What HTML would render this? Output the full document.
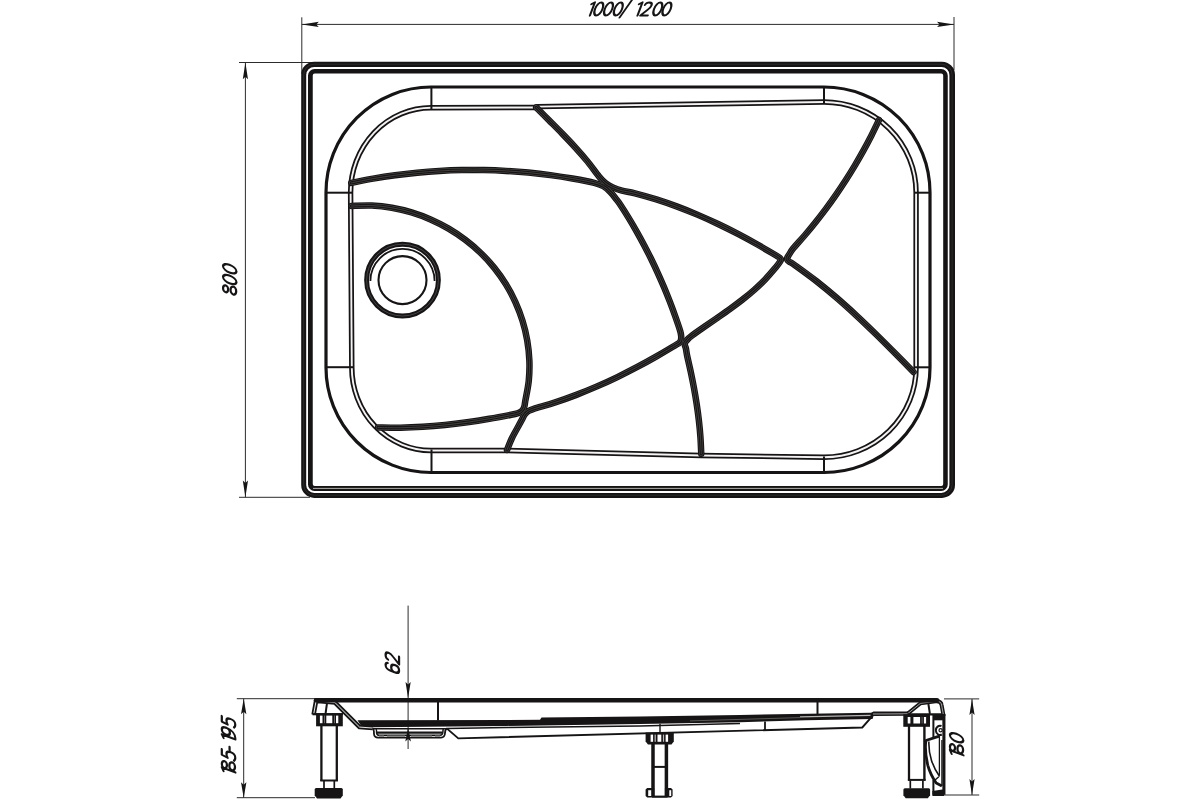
<!DOCTYPE html>
<html><head><meta charset="utf-8"><title>drawing</title>
<style>html,body{margin:0;padding:0;background:#fff;}body{width:1200px;height:800px;overflow:hidden;font-family:"Liberation Sans",sans-serif;}svg{display:block;position:absolute;left:0;top:0;}</style>
</head><body>
<svg width="1200" height="800" viewBox="0 0 1200 800">
<rect x="0" y="0" width="1200" height="800" fill="#ffffff"/>
<g stroke="#2c2c2c" stroke-width="1.0" fill="none">
<path d="M301.8,17.3 V74"/>
<path d="M954,17 V70"/>
<path d="M301.8,24.4 H954"/>
<path d="M239,62.5 H314"/>
<path d="M239,497.3 H310"/>
<path d="M245.4,62.5 V497.3"/>
</g>
<path d="M301.80,24.40 L318.80,21.70 L316.30,24.40 L318.80,27.10 Z" fill="#161414"/>
<path d="M954.00,24.40 L937.00,27.10 L939.50,24.40 L937.00,21.70 Z" fill="#161414"/>
<path d="M245.40,62.50 L248.00,79.30 L245.40,76.80 L242.80,79.30 Z" fill="#161414"/>
<path d="M245.40,497.30 L242.80,480.50 L245.40,483.00 L248.00,480.50 Z" fill="#161414"/>
<path fill="#161414" fill-rule="evenodd" d="M314.20,61.75 H942.00 A13.00,13.00 0 0 1 955.00,74.75 V484.90 A13.00,13.00 0 0 1 942.00,497.90 H314.20 A13.00,13.00 0 0 1 301.20,484.90 V74.75 A13.00,13.00 0 0 1 314.20,61.75 Z M314.20,66.90 H941.40 A8.00,8.00 0 0 1 949.40,74.90 V484.90 A8.00,8.00 0 0 1 941.40,492.90 H314.20 A8.00,8.00 0 0 1 306.20,484.90 V74.90 A8.00,8.00 0 0 1 314.20,66.90 Z"/>
<path fill="#161414" fill-rule="evenodd" d="M314.50,69.00 H941.25 A6.50,6.50 0 0 1 947.75,75.50 V484.40 A6.50,6.50 0 0 1 941.25,490.90 H314.50 A6.50,6.50 0 0 1 308.00,484.40 V75.50 A6.50,6.50 0 0 1 314.50,69.00 Z M314.75,73.50 H941.20 A2.00,2.00 0 0 1 943.20,75.50 V484.00 A2.00,2.00 0 0 1 941.20,486.00 H314.75 A2.00,2.00 0 0 1 312.75,484.00 V75.50 A2.00,2.00 0 0 1 314.75,73.50 Z"/>
<path fill="none" stroke="#3d3a3a" stroke-width="0.6" d="M314.20,64.20 H941.60 A10.50,10.50 0 0 1 952.10,74.70 V484.70 A10.50,10.50 0 0 1 941.60,495.20 H314.20 A10.50,10.50 0 0 1 303.70,484.70 V74.70 A10.50,10.50 0 0 1 314.20,64.20 Z"/>
<path fill="none" stroke="#b0acac" stroke-width="1.0" d="M313,488.4 H943"/>
<path fill="none" stroke="#161414" stroke-width="3.2" d="M431,87 H824 A106,105.5 0 0 1 930,192.5 V367.5 A106,105 0 0 1 824,472.5 H431 A105,105 0 0 1 326,367.5 V192.5 A105,105.5 0 0 1 431,87 Z"/>
<path fill="none" stroke="#161414" stroke-width="5.4" d="M431,107.7 L535,107.5 L538,106.6 L824,102 A92.1,90.5 0 0 1 916.1,192.5 V367.5 A92.1,89.8 0 0 1 824,457.3 L701,455.5 L506,450.5 L431,450.5 A79.2,83 0 0 1 351.8,367.5 L350.6,192.5 A80.4,84.8 0 0 1 431,107.7 Z"/>
<path fill="none" stroke="#f4f2f2" stroke-width="1.9" d="M431,107.7 L535,107.5 L538,106.6 L824,102 A92.1,90.5 0 0 1 916.1,192.5 V367.5 A92.1,89.8 0 0 1 824,457.3 L701,455.5 L506,450.5 L431,450.5 A79.2,83 0 0 1 351.8,367.5 L350.6,192.5 A80.4,84.8 0 0 1 431,107.7 Z"/>
<g stroke="#161414" stroke-width="2.0" fill="none">
<path d="M431.4,87 V109.5"/><path d="M824,87 V103"/><path d="M326,192.7 H352"/><path d="M915,192.7 H930"/>
<path d="M326,367.2 H353"/><path d="M915,367.3 H930"/><path d="M431.5,449.5 V472.5"/><path d="M824,456.5 V472.5"/>
</g>
<defs>
<path id="f0" d="M351.25,182.90 C354.89,182.19 365.80,179.93 373.11,178.65 C380.42,177.37 387.75,176.23 395.11,175.24 C402.46,174.24 409.83,173.39 417.22,172.67 C424.60,171.96 432.00,171.38 439.41,170.95 C446.81,170.52 454.23,170.23 461.65,170.08 C469.06,169.94 476.49,169.93 483.90,170.07 C491.32,170.20 498.74,170.48 506.14,170.90 C513.55,171.32 520.95,171.88 528.33,172.59 C535.72,173.29 543.09,174.14 550.44,175.13 C557.80,176.13 565.13,177.26 572.44,178.54 C579.75,179.82 589.12,181.51 594.30,182.80 C599.48,184.10 600.80,184.75 603.50,186.30 C606.20,187.85 608.33,189.90 610.50,192.10 C612.67,194.30 614.83,197.35 616.50,199.50 C618.17,201.65 618.45,201.89 620.50,205.00 C622.55,208.11 626.10,213.73 628.79,218.16 C631.49,222.58 634.11,227.05 636.67,231.55 C639.22,236.05 641.71,240.59 644.13,245.17 C646.55,249.75 648.90,254.36 651.18,259.01 C653.46,263.65 655.67,268.33 657.81,273.05 C659.95,277.76 662.03,282.50 664.03,287.28 C666.04,292.05 667.97,296.86 669.84,301.69 C671.70,306.52 673.50,311.38 675.22,316.27 C676.95,321.15 679.20,327.63 680.20,331.00 C681.19,334.37 681.12,334.85 681.20,336.50 C681.28,338.15 681.10,339.78 680.70,340.90 C680.30,342.02 679.54,342.57 678.80,343.20 C678.06,343.83 679.89,342.54 676.25,344.69 C672.61,346.85 663.44,352.43 656.96,356.15 C650.47,359.86 643.94,363.48 637.34,366.97 C630.74,370.45 624.09,373.83 617.38,377.07 C610.66,380.31 603.89,383.43 597.05,386.39 C590.21,389.35 583.31,392.18 576.34,394.84 C569.38,397.50 562.35,400.02 555.25,402.37 C548.15,404.71 538.24,407.42 533.75,408.89 C529.26,410.37 529.62,410.48 528.30,411.20 C526.98,411.92 526.52,412.47 525.80,413.20 C525.08,413.93 524.63,414.55 524.00,415.60 C523.37,416.65 522.92,417.77 522.00,419.50 C521.08,421.23 520.17,422.92 518.50,426.00 C516.83,429.08 513.92,434.00 512.00,438.00 C510.08,442.00 507.83,448.00 507.00,450.00"/>
<path id="f1" d="M536.20,107.40 C538.39,109.60 544.98,116.18 549.36,120.59 C553.75,125.01 558.17,129.40 562.50,133.87 C566.83,138.35 571.15,142.84 575.33,147.45 C579.51,152.05 583.63,156.71 587.56,161.52 C591.49,166.33 595.86,172.65 598.90,176.30 C601.94,179.94 603.48,181.55 605.80,183.40 C608.12,185.25 610.10,186.18 612.80,187.40 C615.50,188.62 618.30,189.72 622.00,190.70 C625.70,191.68 629.28,191.85 635.00,193.30 C640.72,194.75 649.29,197.19 656.34,199.42 C663.40,201.64 670.38,204.07 677.30,206.65 C684.23,209.23 691.08,211.99 697.88,214.88 C704.68,217.78 711.42,220.84 718.09,224.02 C724.77,227.19 731.38,230.52 737.94,233.94 C744.50,237.35 751.00,240.91 757.44,244.53 C763.88,248.16 772.91,253.51 776.60,255.70 C780.29,257.90 778.87,257.08 779.60,257.70 C780.33,258.32 780.93,258.72 781.00,259.40 C781.07,260.08 780.90,260.43 780.00,261.80 C779.10,263.17 778.03,264.70 775.60,267.60 C773.16,270.50 768.95,275.51 765.39,279.21 C761.84,282.91 758.10,286.41 754.28,289.81 C750.45,293.21 746.47,296.45 742.45,299.62 C738.42,302.80 734.28,305.85 730.12,308.87 C725.96,311.90 721.72,314.83 717.49,317.77 C713.27,320.72 709.00,323.60 704.79,326.54 C700.57,329.48 694.83,333.49 692.20,335.40 C689.57,337.31 689.93,337.15 689.00,338.00 C688.07,338.85 687.27,339.73 686.60,340.50 C685.93,341.27 685.30,341.85 685.00,342.60 C684.70,343.35 684.65,344.02 684.80,345.00 C684.95,345.98 685.50,346.67 685.90,348.50 C686.30,350.33 686.38,352.07 687.20,356.00 C688.02,359.93 689.67,366.71 690.80,372.09 C691.94,377.47 693.02,382.86 694.01,388.26 C695.00,393.67 695.93,399.09 696.74,404.52 C697.56,409.95 698.30,415.40 698.92,420.85 C699.53,426.31 700.06,431.78 700.44,437.27 C700.83,442.75 701.11,451.00 701.25,453.75"/>
<path id="f2" d="M351.50,206.01 C354.88,205.94 365.05,205.28 371.79,205.58 C378.52,205.87 385.27,206.63 391.90,207.78 C398.54,208.92 405.14,210.51 411.58,212.45 C418.03,214.40 424.40,216.76 430.57,219.46 C436.74,222.16 442.79,225.25 448.60,228.66 C454.40,232.06 460.05,235.83 465.40,239.89 C470.76,243.94 475.91,248.34 480.73,253.01 C485.55,257.67 490.12,262.65 494.32,267.87 C498.52,273.09 502.42,278.61 505.93,284.31 C509.44,290.01 512.61,295.98 515.38,302.08 C518.15,308.17 520.55,314.49 522.53,320.89 C524.51,327.29 526.10,333.86 527.24,340.47 C528.38,347.07 529.11,353.81 529.37,360.53 C529.62,367.25 529.44,374.06 528.76,380.80 C528.08,387.55 525.98,396.89 525.28,401.01 C524.59,405.12 524.91,404.17 524.60,405.50 C524.29,406.83 524.00,407.97 523.40,409.00 C522.80,410.03 521.98,410.98 521.00,411.70 C520.02,412.42 519.12,412.80 517.50,413.30 C515.88,413.80 515.95,413.79 511.25,414.70 C506.55,415.61 496.62,417.52 489.28,418.78 C481.93,420.04 474.56,421.22 467.18,422.25 C459.79,423.28 452.39,424.22 444.98,424.98 C437.56,425.75 430.13,426.39 422.70,426.85 C415.26,427.31 407.81,427.62 400.36,427.73 C392.91,427.84 381.73,427.54 378.00,427.50"/>
<path id="f3" d="M879.01,120.00 C877.75,122.58 874.06,130.34 871.46,135.45 C868.85,140.56 866.16,145.63 863.38,150.65 C860.60,155.68 857.73,160.66 854.79,165.59 C851.84,170.52 848.81,175.40 845.69,180.24 C842.58,185.07 839.39,189.85 836.12,194.57 C832.85,199.29 829.49,203.97 826.07,208.58 C822.64,213.19 819.13,217.74 815.55,222.23 C811.98,226.72 808.32,231.15 804.60,235.51 C800.87,239.88 795.75,245.27 793.20,248.40 C790.66,251.53 790.27,252.82 789.30,254.30 C788.33,255.78 787.75,256.42 787.40,257.30 C787.05,258.18 786.85,258.85 787.20,259.60 C787.55,260.35 788.20,260.85 789.50,261.80 C790.80,262.75 790.51,262.08 795.00,265.30 C799.48,268.53 809.43,275.69 816.42,281.15 C823.41,286.61 830.22,292.29 836.93,298.08 C843.65,303.86 850.21,309.82 856.72,315.85 C863.22,321.88 869.60,328.05 875.96,334.25 C882.31,340.45 888.57,346.75 894.82,353.04 C901.08,359.33 910.39,368.84 913.50,372.00"/>
</defs>
<g fill="none" stroke="#161414" stroke-width="6.5" stroke-linecap="round" stroke-linejoin="round">
<use href="#f0"/>
<use href="#f1"/>
<use href="#f2"/>
<use href="#f3"/>
</g>
<g fill="none" stroke="#545050" stroke-width="4.3" stroke-linecap="round" stroke-linejoin="round">
<use href="#f0"/>
<use href="#f1"/>
<use href="#f2"/>
<use href="#f3"/>
</g>
<g fill="none" stroke="#161414" stroke-width="3.3" stroke-linecap="round" stroke-linejoin="round">
<use href="#f0"/>
<use href="#f1"/>
<use href="#f2"/>
<use href="#f3"/>
</g>
<g fill="none" stroke="#545050" stroke-width="0.7" stroke-linecap="round" stroke-linejoin="round">
<use href="#f0"/>
<use href="#f1"/>
<use href="#f2"/>
<use href="#f3"/>
</g>
<circle cx="402.5" cy="280.1" r="35.9" fill="none" stroke="#161414" stroke-width="4.9"/>
<circle cx="402.5" cy="280.1" r="35.9" fill="none" stroke="#5a5656" stroke-width="0.7"/>
<path d="M370.4,281 A32.1,32.1 0 0 1 434.6,281" fill="none" stroke="#161414" stroke-width="1.8"/>
<circle cx="402.5" cy="280.1" r="24" fill="none" stroke="#161414" stroke-width="2.1"/>
<g stroke="#2c2c2c" stroke-width="1.0" fill="none">
<path d="M236.8,698.7 H315"/><path d="M236.8,797.7 H315"/><path d="M243.7,698.7 V797.7"/>
<path d="M408.1,605.6 V749"/>
<path d="M944,698.9 H979.2"/><path d="M944,795 H979.2"/><path d="M972,699 V795"/>
</g>
<path d="M243.70,698.70 L246.40,714.20 L243.70,711.70 L241.00,714.20 Z" fill="#161414"/>
<path d="M243.70,797.70 L241.00,782.20 L243.70,784.70 L246.40,782.20 Z" fill="#161414"/>
<path d="M972.00,699.00 L974.60,715.00 L972.00,712.50 L969.40,715.00 Z" fill="#161414"/>
<path d="M972.00,795.00 L969.40,779.00 L972.00,781.50 L974.60,779.00 Z" fill="#161414"/>
<path d="M447,728.6 L458.3,738.4 L862.3,727.5 L871,717.6" fill="none" stroke="#161414" stroke-width="1.9" stroke-linejoin="miter"/>
<path d="M765,721.5 V730.5" stroke="#161414" stroke-width="1.8" fill="none"/>
<path fill="#161414" d="M357.5,720.3 L540,719.8 L541.5,717.6 L640,716.6 L740,714.9 L871,712.8 L873.5,711.6 L908,711.6 L908,713 L874.5,713 L872.5,719 L806,720.3 L740,722.2 L640,724 L507,725.9 L372,727.3 L362,727.3 Z"/>
<path d="M800,716.9 L870.5,715.4" fill="none" stroke="#b9b5b5" stroke-width="1.1"/>
<path d="M690,720.9 L800,717.6" fill="none" stroke="#7a7676" stroke-width="0.7"/>
<path d="M372,728.7 L447,728.7" fill="none" stroke="#161414" stroke-width="1.5"/>
<path d="M447,728.4 L507,727.6 L640,725.9 L740,723.6" fill="none" stroke="#161414" stroke-width="1.5"/>
<path d="M873,714 L907.5,713.8 L920.5,703.3 L935.5,701.3 Q941,700.7 941.6,705 L943.6,716" fill="none" stroke="#161414" stroke-width="4.0" stroke-linejoin="round"/>
<path d="M873,714 L907.5,713.8 L920.5,703.3 L935.5,701.3 Q941,700.7 941.6,705 L943.6,716" fill="none" stroke="#fff" stroke-width="0.6" stroke-linejoin="round"/>
<path d="M313.6,714.6 L316,701.4 Q316.3,700.3 318,700.9 L335,702.6 L359.6,727.1 L372.6,728.0" fill="none" stroke="#161414" stroke-width="4.5" stroke-linejoin="round"/>
<path d="M313.6,714.6 L316,701.4 Q316.3,700.3 318,700.9 L335,702.6 L359.6,727.1 L372.6,728.0" fill="none" stroke="#fff" stroke-width="0.9" stroke-linejoin="round"/>
<path d="M316,700.25 H937 " fill="none" stroke="#161414" stroke-width="4.5" stroke-linecap="round"/>
<path d="M314.2,698.6 L316,698 L320,698 L320,702 L315,702 Z" fill="#161414"/>
<g stroke="#161414" stroke-width="2" fill="none"><path d="M438,702 V720.5"/><path d="M817.5,702 V714"/></g>
<path d="M372.6,728.4 Q374,729 374,734 Q374.3,737.6 378,737.6 H441 Q444.8,737.6 445,733 Q445.2,729 447,728.4" fill="none" stroke="#161414" stroke-width="1.8"/>
<path d="M375.8,728.8 Q376.6,729 376.6,733 Q377,735.2 379,735.2 H440 Q442.6,735.2 442.8,732.8 L443.2,728.8" fill="none" stroke="#161414" stroke-width="1.5"/>
<path d="M377,732.7 H442.5" fill="none" stroke="#161414" stroke-width="2.3"/>
<path d="M379,736.2 H384 M387,736.2 H405 M411,736.2 H432 M435,736.2 H440" fill="none" stroke="#8a8686" stroke-width="1.6"/>
<path d="M408.10,698.00 L405.50,682.00 L408.10,684.50 L410.70,682.00 Z" fill="#161414"/>
<path d="M408.10,727.60 L410.90,741.60 L408.10,739.10 L405.30,741.60 Z" fill="#161414"/>
<path d="M326.9,703.8 L325.5,714" stroke="#161414" stroke-width="2" fill="none"/>
<path d="M312.5,714.2 H343" stroke="#161414" stroke-width="2.2" fill="none"/>
<rect x="316.1" y="713.3" width="26.7" height="13" fill="#161414"/>
<g fill="#fff"><rect x="319.9" y="715.6" width="2.6" height="7.6"/><rect x="326.3" y="715.6" width="6" height="7.6"/><rect x="336" y="715.6" width="2.3" height="7.6"/></g>
<g fill="#8f8b8b"><rect x="324" y="715.6" width="0.7" height="7.6"/><rect x="334.1" y="715.6" width="0.7" height="7.6"/></g>
<g stroke="#161414" fill="none"><path d="M321.4,726 V781" stroke-width="2.3"/><path d="M336.8,726 V781" stroke-width="2.3"/><path d="M320.3,780.5 H337.9" stroke-width="2"/><path d="M324,781 V788.5" stroke-width="1.7"/><path d="M334.3,781 V788.5" stroke-width="1.7"/></g>
<path d="M316.2,788 H341.3 Q342.8,788 342.8,789.5 V795.5 L340.5,798.5 H317 L314.7,795.5 V789.5 Q314.7,788 316.2,788 Z" fill="#161414"/>
<path d="M928.4,704 L929.9,713.8" stroke="#161414" stroke-width="2" fill="none"/>
<path d="M907.5,714.3 H942" stroke="#161414" stroke-width="2.2" fill="none"/>
<rect x="903.3" y="714.2" width="26.7" height="12.6" fill="#161414"/>
<g fill="#fff"><rect x="907.7" y="717" width="2.7" height="6.5"/><rect x="913.4" y="717" width="6.7" height="6.5"/><rect x="923.9" y="717" width="2.2" height="6.5"/></g>
<g fill="#8f8b8b"><rect x="921.7" y="717" width="0.7" height="6.5"/></g>
<g stroke="#161414" fill="none"><path d="M909,726 V780.5" stroke-width="2.3"/><path d="M924.4,726 V780.5" stroke-width="2.4"/><path d="M907.9,779.9 H925.6" stroke-width="2"/><path d="M910.3,780.5 V788.5" stroke-width="1.7"/><path d="M922.9,780.5 V788.5" stroke-width="1.7"/></g>
<path d="M904.9,788.3 H928.6 Q930.1,788.3 930.1,789.8 V795.3 L927.8,798.3 H905.7 L903.4,795.3 V789.8 Q903.4,788.3 904.9,788.3 Z" fill="#161414"/>
<path d="M943.9,714 V794.8" stroke="#161414" stroke-width="3.1" fill="none"/>
<path d="M933.4,714 V737.5 M933.4,780 V794.8" stroke="#161414" stroke-width="2" fill="none"/>
<rect x="933" y="714" width="11" height="6.3" fill="#161414"/>
<path d="M932.4,791 L944,789.3 V796 H932.4 Z" fill="#161414"/>
<path d="M941.5,726 A4.2,4.6 0 1 0 941.8,734.5" stroke="#161414" stroke-width="2" fill="none"/>
<circle cx="940.6" cy="730.3" r="1.6" fill="none" stroke="#161414" stroke-width="1.2"/>
<path d="M939.4,734.4 V775 M941.9,740 V786" stroke="#161414" stroke-width="1.3" fill="none"/>
<path d="M939.5,736.2 L936.2,737.2 L925.9,740.5 C924.8,748 925.6,756 927.8,765.3 C929.5,771.5 932.5,777.5 936.2,783.1 L941.9,786" stroke="#161414" stroke-width="2.8" fill="none" stroke-linejoin="round"/>
<path d="M928.9,741.5 C928.6,749 929.7,755 931.5,760.5 C933.5,766.5 936,771.5 939.6,776.5" stroke="#161414" stroke-width="1.6" fill="none"/>
<path d="M933.3,781.5 L938.8,776.8" stroke="#161414" stroke-width="1.4" fill="none"/>
<path d="M660,723.8 V733" stroke="#161414" stroke-width="1.4" fill="none"/>
<path d="M645.6,732.5 H673.8 V741.5 L671.5,744.4 H648 L645.6,741.5 Z" fill="#161414"/>
<g fill="#fff"><rect x="650.6" y="734.6" width="2.5" height="7.2"/><rect x="657.5" y="734.6" width="3.8" height="7.2"/><rect x="665.6" y="734.6" width="2.5" height="7.2"/></g>
<g fill="#bdbaba"><rect x="654.6" y="734.6" width="1.2" height="7.2"/><rect x="662.9" y="734.6" width="1.2" height="7.2"/></g>
<g stroke="#161414" fill="none"><path d="M653,744 V796" stroke-width="3.5"/><path d="M666.4,744 V796" stroke-width="3.5"/><path d="M653,766.9 H666.4" stroke-width="2"/></g>
<path d="M647.2,788 H671 L672.6,789.6 V796 L671,797.6 H647.2 L645.6,796 V789.6 Z" fill="#161414"/>
<g fill="#fff"><rect x="648.2" y="790.2" width="3" height="5.8"/><rect x="669.3" y="790.2" width="1.9" height="5.8"/><rect x="654.8" y="788" width="9.8" height="8.6"/></g>
<path d="M652,796.6 H667.5" stroke="#161414" stroke-width="2" fill="none"/>
<g transform="translate(585.20,16.50) rotate(0) scale(1) skewX(-20.5)" fill="none" stroke="#161414" stroke-width="2.15" stroke-linecap="round" stroke-linejoin="round">
<g transform="translate(0.50,0)"><path d="M1.0,-12.4 L3.9,-14 L3.9,-0.9"/></g>
<g transform="translate(5.85,0)"><ellipse cx="4.9" cy="-7.5" rx="3.75" ry="6.5"/></g>
<g transform="translate(15.60,0)"><ellipse cx="4.9" cy="-7.5" rx="3.75" ry="6.5"/></g>
<g transform="translate(25.40,0)"><ellipse cx="4.9" cy="-7.5" rx="3.75" ry="6.5"/></g>
<g transform="translate(35.20,0)"><path d="M-0.4,1 L5.4,-16.5"/></g>
<g transform="translate(48.10,0)"><path d="M1.0,-12.4 L3.9,-14 L3.9,-0.9"/></g>
<g transform="translate(54.55,0)"><path d="M0.9,-11.6 C1.2,-13.3 2.6,-14 4.2,-14 C6.2,-14 7.6,-12.8 7.6,-11 C7.6,-9.4 6.8,-8.2 5.6,-7 L0.2,-1 L7.6,-1"/></g>
<g transform="translate(64.90,0)"><ellipse cx="4.9" cy="-7.5" rx="3.75" ry="6.5"/></g>
<g transform="translate(74.00,0)"><ellipse cx="4.9" cy="-7.5" rx="3.75" ry="6.5"/></g>
</g>
<g transform="translate(237.50,296.44) rotate(-90) scale(1.035) skewX(-20.5)" fill="none" stroke="#161414" stroke-width="2.15" stroke-linecap="round" stroke-linejoin="round">
<g transform="translate(0.00,0)"><ellipse cx="4.7" cy="-11.5" rx="3.3" ry="2.45" transform="skewX(8)"/><ellipse cx="4.7" cy="-4.0" rx="3.8" ry="2.75" transform="skewX(8)"/></g>
<g transform="translate(8.63,0)"><ellipse cx="4.9" cy="-7.5" rx="3.75" ry="6.5"/></g>
<g transform="translate(19.00,0)"><ellipse cx="4.9" cy="-7.5" rx="3.75" ry="6.5"/></g>
</g>
<g transform="translate(400.10,675.20) rotate(-90) scale(1.035) skewX(-20.5)" fill="none" stroke="#161414" stroke-width="2.15" stroke-linecap="round" stroke-linejoin="round">
<g transform="translate(0.00,0)"><path d="M7.4,-12 C7,-13.3 5.9,-14 4.5,-14 C2.3,-14 0.9,-12.3 0.9,-9.5 L0.9,-5 C0.9,-2.5 2.3,-1 4.4,-1 C6.5,-1 7.9,-2.5 7.9,-4.8 C7.9,-7 6.5,-8.6 4.4,-8.6 C2.7,-8.6 1.4,-7.6 0.9,-6"/></g>
<g transform="translate(9.90,0)"><path d="M0.9,-11.6 C1.2,-13.3 2.6,-14 4.2,-14 C6.2,-14 7.6,-12.8 7.6,-11 C7.6,-9.4 6.8,-8.2 5.6,-7 L0.2,-1 L7.6,-1"/></g>
</g>
<g transform="translate(236.30,776.80) rotate(-90) scale(1.035) skewX(-20.5)" fill="none" stroke="#161414" stroke-width="2.15" stroke-linecap="round" stroke-linejoin="round">
<g transform="translate(0.00,0)"><path d="M1.0,-12.4 L3.9,-14 L3.9,-0.9"/></g>
<g transform="translate(4.43,0)"><ellipse cx="4.7" cy="-11.5" rx="3.3" ry="2.45" transform="skewX(8)"/><ellipse cx="4.7" cy="-4.0" rx="3.8" ry="2.75" transform="skewX(8)"/></g>
<g transform="translate(14.00,0)"><path d="M7.4,-14 L2.0,-14 L1.3,-8.4 C2.6,-9.2 3.6,-9.5 4.6,-9.5 C6.6,-9.5 7.7,-7.8 7.7,-5.5 C7.7,-2.8 6.2,-1 4.0,-1 C2.8,-1 1.6,-1.3 0.7,-2.2"/></g>
<g transform="translate(22.40,0)"><path d="M0.8,-6.5 L4.1,-6.5"/></g>
<g transform="translate(31.90,0)"><path d="M1.0,-12.4 L3.9,-14 L3.9,-0.9"/></g>
<g transform="translate(36.10,0)"><path d="M1.2,-1 C4.5,-1.2 7.6,-4 7.7,-9.5 C7.7,-12.3 6.4,-14 4.4,-14 C2.3,-14 1.0,-12.4 1.0,-10 C1.0,-7.7 2.4,-6.2 4.3,-6.2 C6.2,-6.2 7.5,-7.6 7.7,-9.5"/></g>
<g transform="translate(46.10,0)"><path d="M7.4,-14 L2.0,-14 L1.3,-8.4 C2.6,-9.2 3.6,-9.5 4.6,-9.5 C6.6,-9.5 7.7,-7.8 7.7,-5.5 C7.7,-2.8 6.2,-1 4.0,-1 C2.8,-1 1.6,-1.3 0.7,-2.2"/></g>
</g>
<g transform="translate(964.40,759.64) rotate(-90) scale(1.035) skewX(-20.5)" fill="none" stroke="#161414" stroke-width="2.15" stroke-linecap="round" stroke-linejoin="round">
<g transform="translate(0.00,0)"><path d="M1.0,-12.4 L3.9,-14 L3.9,-0.9"/></g>
<g transform="translate(4.33,0)"><ellipse cx="4.7" cy="-11.5" rx="3.3" ry="2.45" transform="skewX(8)"/><ellipse cx="4.7" cy="-4.0" rx="3.8" ry="2.75" transform="skewX(8)"/></g>
<g transform="translate(13.45,0)"><ellipse cx="4.9" cy="-7.5" rx="3.75" ry="6.5"/></g>
</g>
</svg></body></html>
